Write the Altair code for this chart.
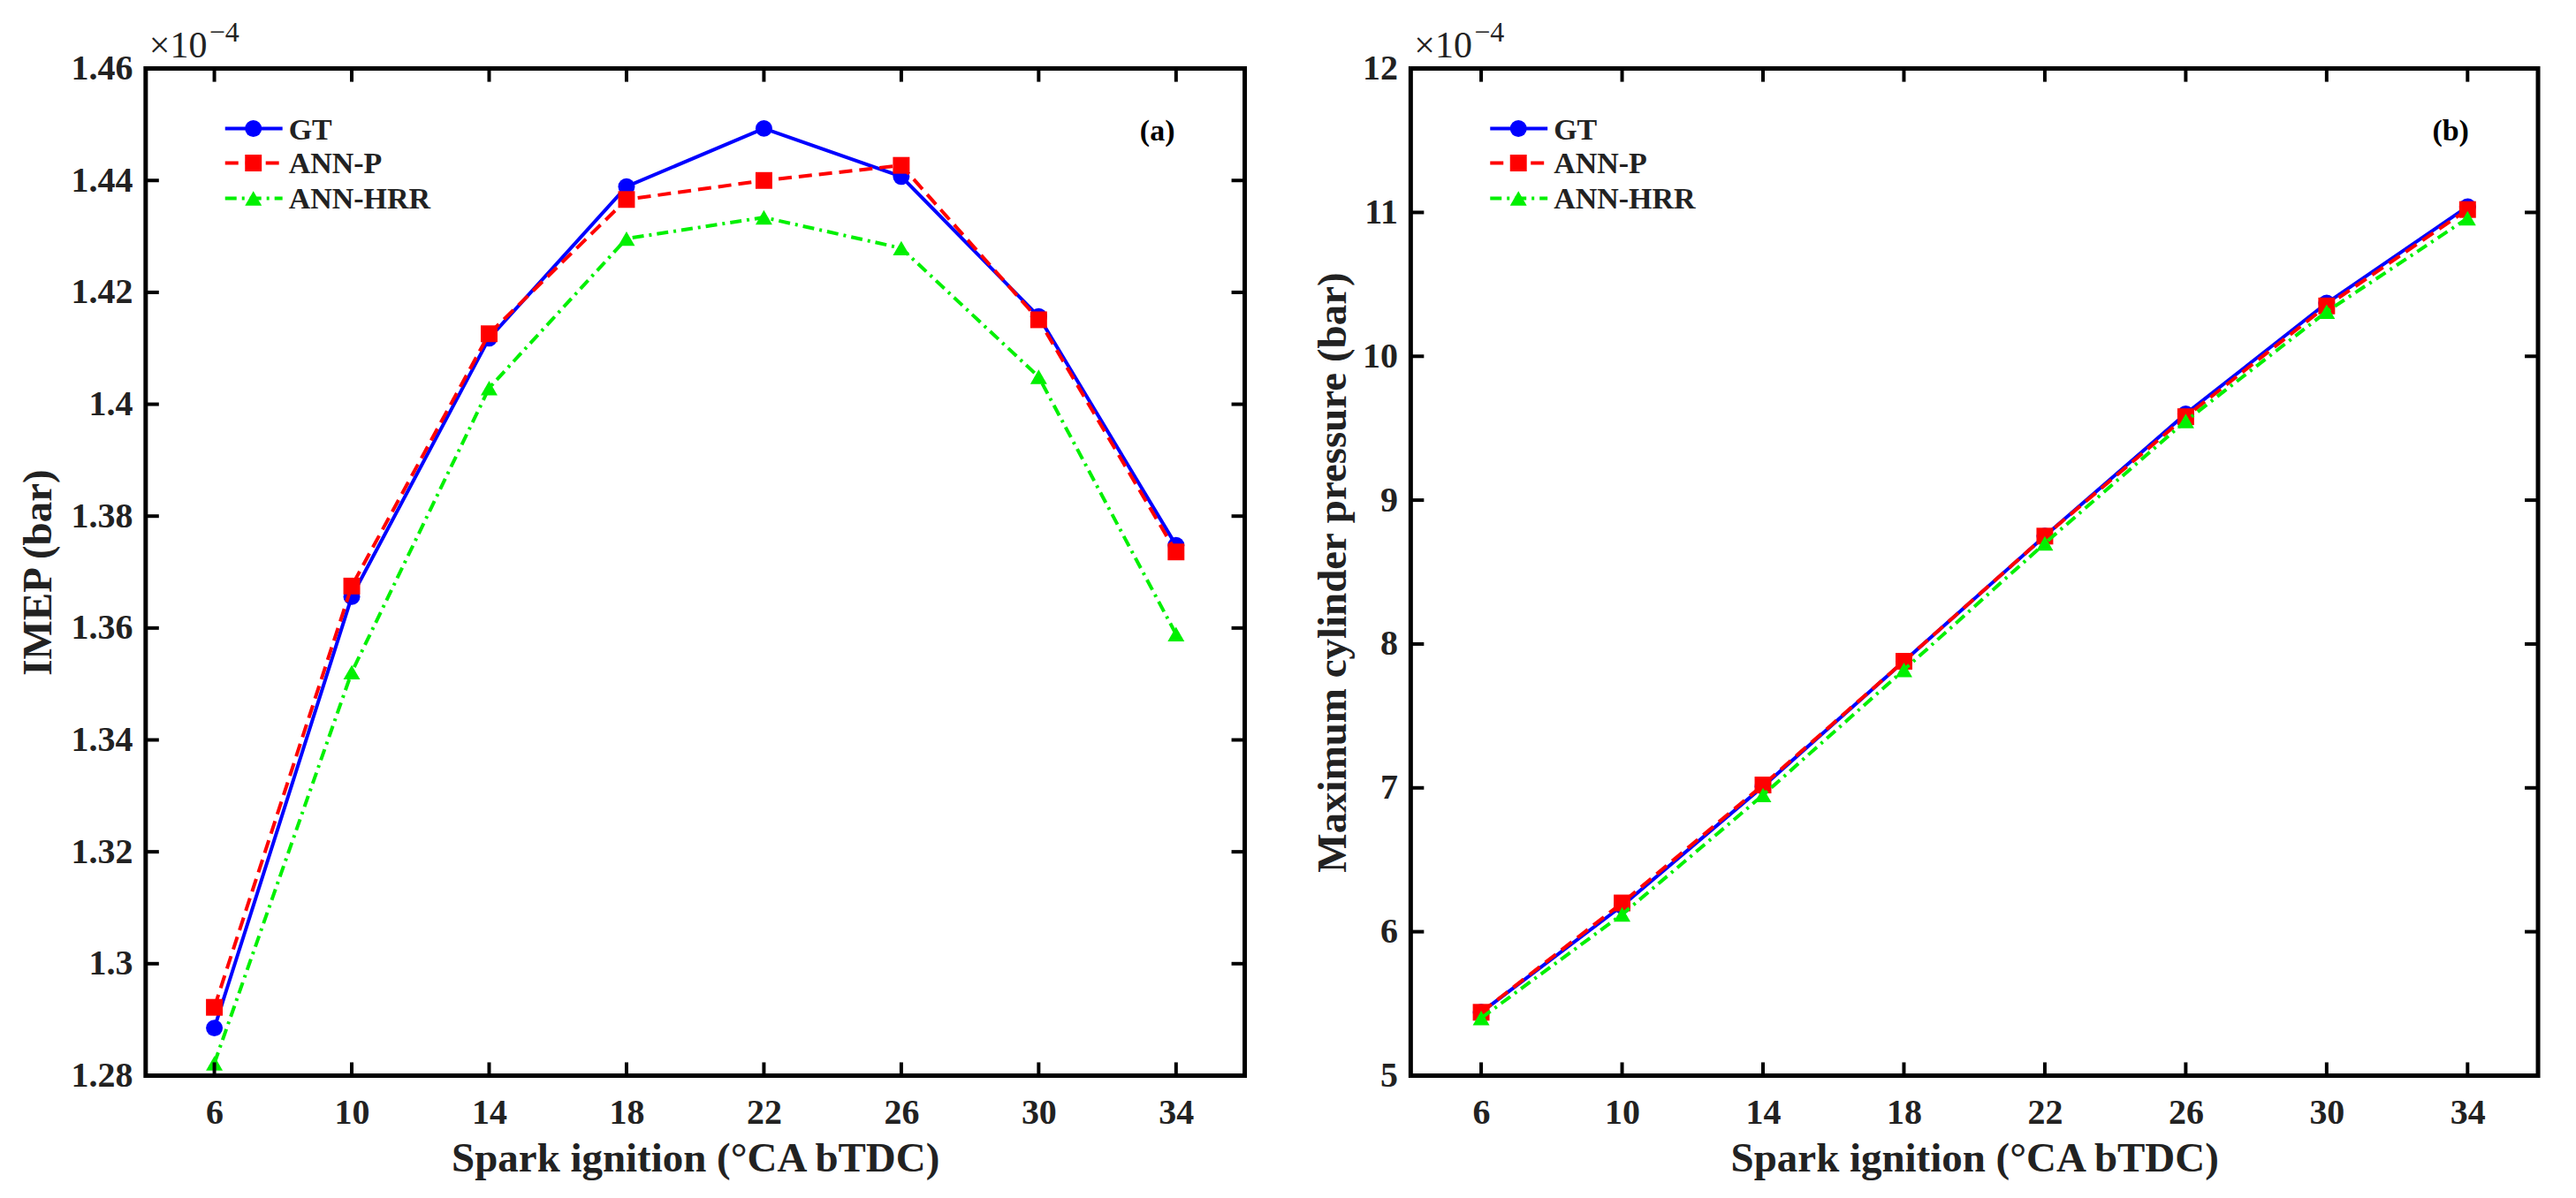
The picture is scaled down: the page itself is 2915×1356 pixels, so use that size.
import pandas as pd
import altair as alt

FONT = "Liberation Serif"

SPARK = [6, 10, 14, 18, 22, 26, 30, 34]
SERIES = ["GT", "ANN-P", "ANN-HRR"]

# IMEP values in units of 1e-4 bar
IMEP_GT = [1.2885, 1.3656, 1.4118, 1.4389, 1.4493, 1.4407, 1.4157, 1.3748]
IMEP_ANN_P = [1.2922, 1.3675, 1.4126, 1.4366, 1.4400, 1.4427, 1.4151, 1.3736]
IMEP_ANN_HRR = [1.2822, 1.3521, 1.4029, 1.4296, 1.4334, 1.4279, 1.4049, 1.3589]

# maximum cylinder pressure in units of 1e-4 bar
PMAX_GT = [5.44, 6.18, 7.01, 7.88, 8.75, 9.60, 10.37, 11.04]
PMAX_ANN_P = [5.44, 6.20, 7.02, 7.88, 8.75, 9.58, 10.35, 11.02]
PMAX_ANN_HRR = [5.40, 6.12, 6.95, 7.82, 8.70, 9.55, 10.31, 10.96]

IMEP_TICKS = [1.28, 1.30, 1.32, 1.34, 1.36, 1.38, 1.40, 1.42, 1.44, 1.46]
PMAX_TICKS = [5, 6, 7, 8, 9, 10, 11, 12]

STYLE = {
    "GT": dict(color="#0000ff", shape="circle", dash=None),
    "ANN-P": dict(color="#ff0000", shape="square", dash=[15, 8]),
    "ANN-HRR": dict(color="#00f000", shape="triangle-up", dash=[13, 6, 3, 6]),
}
MARK_SIZE = 360
PLOT_H = 1141
TICK_LEN = 15
LEGEND_ROWS = [68, 107, 147]
X_TITLE = "Spark ignition (°CA bTDC)"


def line_kw(name):
    kw = dict(color=STYLE[name]["color"], strokeWidth=4)
    if STYLE[name]["dash"]:
        kw["strokeDash"] = STYLE[name]["dash"]
    return kw


def panel(series_values, y_domain, y_ticks, y_title, title_x, tag, width):
    xs = alt.Scale(domain=[4, 36], nice=False, zero=False)
    ys = alt.Scale(domain=y_domain, nice=False, zero=False)
    x_enc = alt.X("spark:Q", scale=xs, title=X_TITLE,
                  axis=alt.Axis(values=SPARK, labelPadding=54, labelBaseline="alphabetic",
                                titleY=108, titleBaseline="alphabetic"))
    y_enc = alt.Y("value:Q", scale=ys, title=y_title,
                  axis=alt.Axis(values=y_ticks, format="~g", labelPadding=15,
                                titleX=title_x, titleBaseline="alphabetic"))
    layers = []

    for i, name in enumerate(SERIES):
        base = alt.Chart(pd.DataFrame({"spark": SPARK, "value": series_values[i]}))
        layers.append(base.mark_line(**line_kw(name)).encode(x=x_enc, y=y_enc))
        layers.append(
            base.mark_point(shape=STYLE[name]["shape"], filled=True, size=MARK_SIZE,
                            color=STYLE[name]["color"], opacity=1)
            .encode(x=x_enc, y=y_enc)
        )

    # inward ticks on all four sides
    xt = alt.Chart(pd.DataFrame({"spark": SPARK}))
    yt = alt.Chart(pd.DataFrame({"value": y_ticks}))
    tick = dict(color="black", strokeWidth=4)
    layers += [
        xt.mark_rule(**tick).encode(x=x_enc, y=alt.value(PLOT_H), y2=alt.value(PLOT_H - TICK_LEN)),
        xt.mark_rule(**tick).encode(x=x_enc, y=alt.value(0), y2=alt.value(TICK_LEN)),
        yt.mark_rule(**tick).encode(y=y_enc, x=alt.value(0), x2=alt.value(TICK_LEN)),
        yt.mark_rule(**tick).encode(y=y_enc, x=alt.value(width), x2=alt.value(width - TICK_LEN)),
    ]

    # legend drawn in the upper-left corner
    for name, row in zip(SERIES, LEGEND_ROWS):
        ldf = alt.Chart(pd.DataFrame({"label": [name]}))
        layers.append(ldf.mark_rule(**line_kw(name)).encode(
            x=alt.value(90), x2=alt.value(155), y=alt.value(row)))
        layers.append(ldf.mark_point(shape=STYLE[name]["shape"], filled=True, size=MARK_SIZE,
                                     color=STYLE[name]["color"], opacity=1)
                      .encode(x=alt.value(122), y=alt.value(row)))
        layers.append(ldf.mark_text(font=FONT, fontSize=34, fontWeight="bold", align="left",
                                    baseline="middle", color="#222222")
                      .encode(x=alt.value(162), y=alt.value(row + 2), text="label:N"))

    ann = alt.Chart(pd.DataFrame({"tag": [tag], "mul": ["×10"], "exp": ["−4"]}))
    layers += [
        ann.mark_text(font=FONT, fontSize=34, fontWeight="bold", baseline="middle")
        .encode(x=alt.value(width - 99), y=alt.value(71), text="tag:N"),
        ann.mark_text(font=FONT, fontSize=42, align="left", baseline="alphabetic", color="#222222")
        .encode(x=alt.value(4), y=alt.value(-13), text="mul:N"),
        ann.mark_text(font=FONT, fontSize=32, align="left", baseline="alphabetic", color="#222222")
        .encode(x=alt.value(72), y=alt.value(-31), text="exp:N"),
    ]

    return alt.layer(*layers).properties(width=width, height=PLOT_H)


left = panel([IMEP_GT, IMEP_ANN_P, IMEP_ANN_HRR], [1.28, 1.46], IMEP_TICKS,
             "IMEP (bar)", -107, "(a)", 1245)
right = panel([PMAX_GT, PMAX_ANN_P, PMAX_ANN_HRR], [5, 12], PMAX_TICKS,
              "Maximum cylinder pressure (bar)", -74, "(b)", 1277)

chart = (
    alt.hconcat(left, right, spacing=188, bounds="flush")
    .properties(padding={"left": 9, "top": 9, "right": 30, "bottom": 0})
    .configure_view(stroke="black", strokeWidth=5)
    .configure_axis(
        labelFont=FONT, labelFontSize=40, labelFontWeight="bold", labelColor="#222222",
        titleFont=FONT, titleFontSize=47, titleFontWeight="bold", titleColor="#222222",
        grid=False, domain=False, ticks=False, tickSize=0,
    )
)

chart.save("out.html", embed_options={"renderer": "svg", "actions": False})
